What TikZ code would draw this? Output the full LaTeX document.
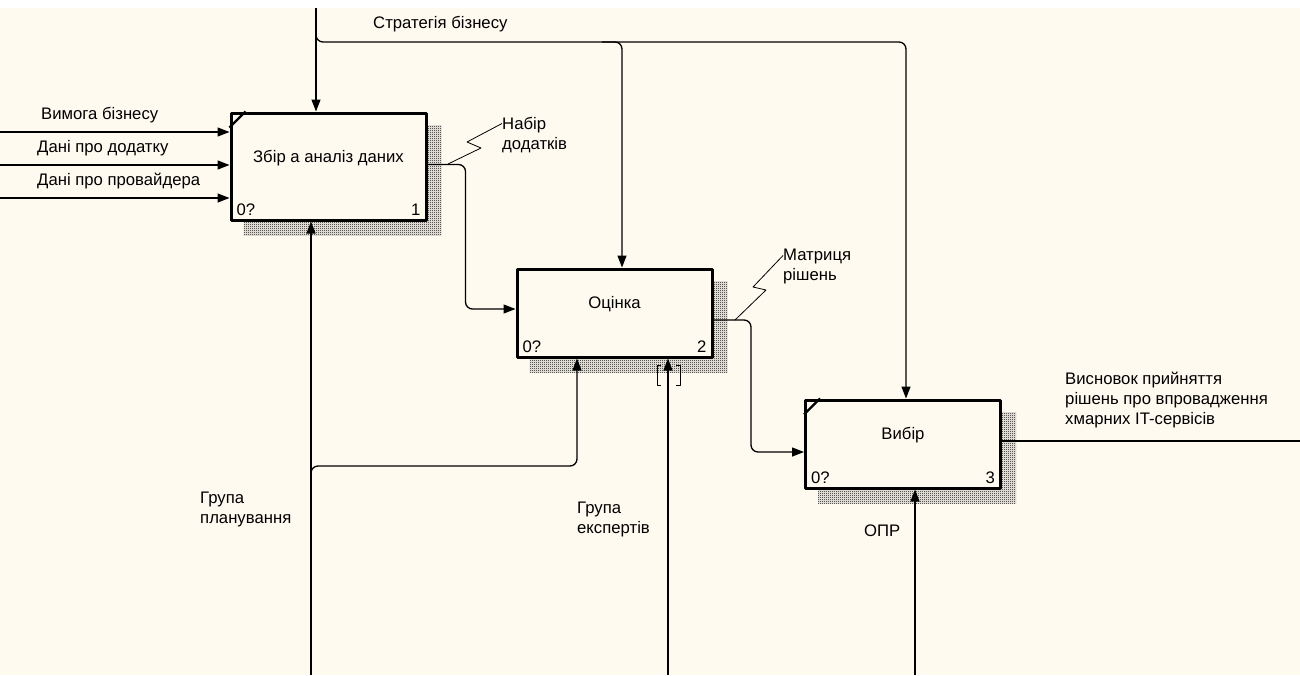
\documentclass[tikz,border=0pt]{standalone}
\usepackage{fontspec}
\setmainfont{Liberation Sans}
\usetikzlibrary{arrows.meta,patterns,backgrounds,calc,positioning}
\definecolor{paper}{HTML}{FFFAF0}
\pgfdeclarepatternformonly{finecheck}{\pgfqpoint{0pt}{0pt}}{\pgfqpoint{2pt}{2pt}}{\pgfqpoint{2pt}{2pt}}{%
	\pgfpathrectangle{\pgfqpoint{0pt}{0pt}}{\pgfqpoint{1pt}{1pt}}%
	\pgfpathrectangle{\pgfqpoint{1pt}{1pt}}{\pgfqpoint{1pt}{1pt}}%
	\pgfusepath{fill}}

\begin{document}
\begin{tikzpicture}[x=1pt,y=-1pt,font=\fontsize{16.7}{20}\selectfont,line join=round,>={Triangle[length=12pt,width=9pt]},
		func/.style={draw,line width=3pt,fill=paper,minimum width=195pt,inner sep=0pt,text height=11pt,text depth=20pt},
		arc/.style={line width=1.3pt,rounded corners=7pt},
		lbl/.style={anchor=west,inner sep=0pt,align=left},
		num/.style={inner xsep=7pt,inner ysep=6pt},
		shade/.style={pattern=finecheck,pattern color=black}]
	\useasboundingbox (0,0) rectangle (1300,675);

	\node[func,minimum height=107pt] (zbir) at (328.5,166.5) {Збір а аналіз даних};
	\node[func,minimum height=88pt] (otsinka) at (614.5,313) {Оцінка};
	\node[func,minimum height=88pt] (vybir) at (903,444) {Вибір};

	\node[num,anchor=south west] (zbir-a) at (zbir.south west) {0?};
	\node[num,anchor=south east] (zbir-b) at (zbir.south east) {1};
	\node[num,anchor=south west] (otsinka-a) at (otsinka.south west) {0?};
	\node[num,anchor=south east] (otsinka-b) at (otsinka.south east) {2};
	\node[num,anchor=south west] (vybir-a) at (vybir.south west) {0?};
	\node[num,anchor=south east] (vybir-b) at (vybir.south east) {3};

	\draw[line width=2.2pt] ([yshift=-16pt]zbir.north west) -- ([xshift=16pt]zbir.north west);
	\draw[line width=2.2pt] ([yshift=-16pt]vybir.north west) -- ([xshift=16pt]vybir.north west);

	\begin{scope}[on background layer]
		\fill[white] (0,0) rectangle (1300,8);
		\fill[paper] (0,8) rectangle (1300,675);
		\fill[shade] ($(zbir.north west)+(14,14)$) rectangle ($(zbir.south east)+(14,14)$);
		\fill[shade] ($(otsinka.north west)+(14,14)$) rectangle ($(otsinka.south east)+(14,14)$);
		\fill[shade] ($(vybir.north west)+(14,14)$) rectangle ($(vybir.south east)+(14,14)$);
	\end{scope}

	% входи
	\foreach \y [count=\i] in {132,165,198} {
		\coordinate (in\i) at (0,\y);
		\draw[arc,->] (in\i) -- (in\i -| zbir.west);
	}
	\node[lbl] (vymoga) at (41,115) {Вимога бізнесу};
	\node[lbl] (dodatok) at (37,148) {Дані про додатку};
	\node[lbl] (provajder) at (37,181) {Дані про провайдера};

	% управління
	\coordinate (ctl) at (316,8);
	\coordinate (strat) at (316,28);
	\coordinate (c2) at (622,42);
	\coordinate (c3) at (906,42);
	\draw[arc,->] (ctl) -- (ctl |- zbir.north);
	\draw[arc,->] (strat) |- (c3) -- (c3 |- vybir.north);
	\draw[arc,->] ($(c2)+(-20,0)$) -| (c2 |- otsinka.north);
	\node[lbl] (stratlbl) at (373,24) {Стратегія бізнесу};

	% виходи
	\draw[arc,->] ([yshift=2pt]zbir.east) -| ($(otsinka.west)+(-50,-4)$) -- ($(otsinka.west)+(0,-4)$);
	\draw[arc,->] ([yshift=-7pt]otsinka.east) -| ($(vybir.west)+(-53,8)$) -- ($(vybir.west)+(0,8)$);
	\coordinate (res) at (1300,441);
	\draw[arc] (vybir.east |- res) -- (res);

	\node[lbl] (nabir) at (502,135.5) {Набір\\додатків};
	\node[lbl] (matr) at (783,266.5) {Матриця\\рішень};
	\node[lbl] (vysnovok) at (1065,400) {Висновок прийняття\\рішень про впровадження\\хмарних IT-сервісів};
	\draw[line width=0.8pt] ([yshift=12pt]nabir.west) -- (467,142) -- (481,148) -- (448,164);
	\draw[line width=0.8pt] ([yshift=11pt]matr.west) -- (753,287) -- (766,290) -- (735,320);

	% механізми
	\coordinate (m1) at (311,675);
	\coordinate (m2) at (668,675);
	\coordinate (m3) at (915,675);
	\coordinate (k3) at (577,466);
	\draw[arc,->] (m1) -- (m1 |- zbir.south);
	\draw[arc,->] (m2) -- (m2 |- otsinka.south);
	\draw[arc,->] (m3) -- (m3 |- vybir.south);
	\draw[arc,->] (311,478) |- (k3) -- (k3 |- otsinka.south);
	\draw[line width=1pt] (661,365) -| (657,385) -- (661,385);
	\draw[line width=1pt] (676,365) -| (680,385) -- (676,385);

	\node[lbl] (planuv) at (200,509) {Група\\планування};
	\node[lbl] (ekspert) at (577,519) {Група\\експертів};
	\node[lbl] (opr) at (864,531) {ОПР};
\end{tikzpicture}
\end{document}
